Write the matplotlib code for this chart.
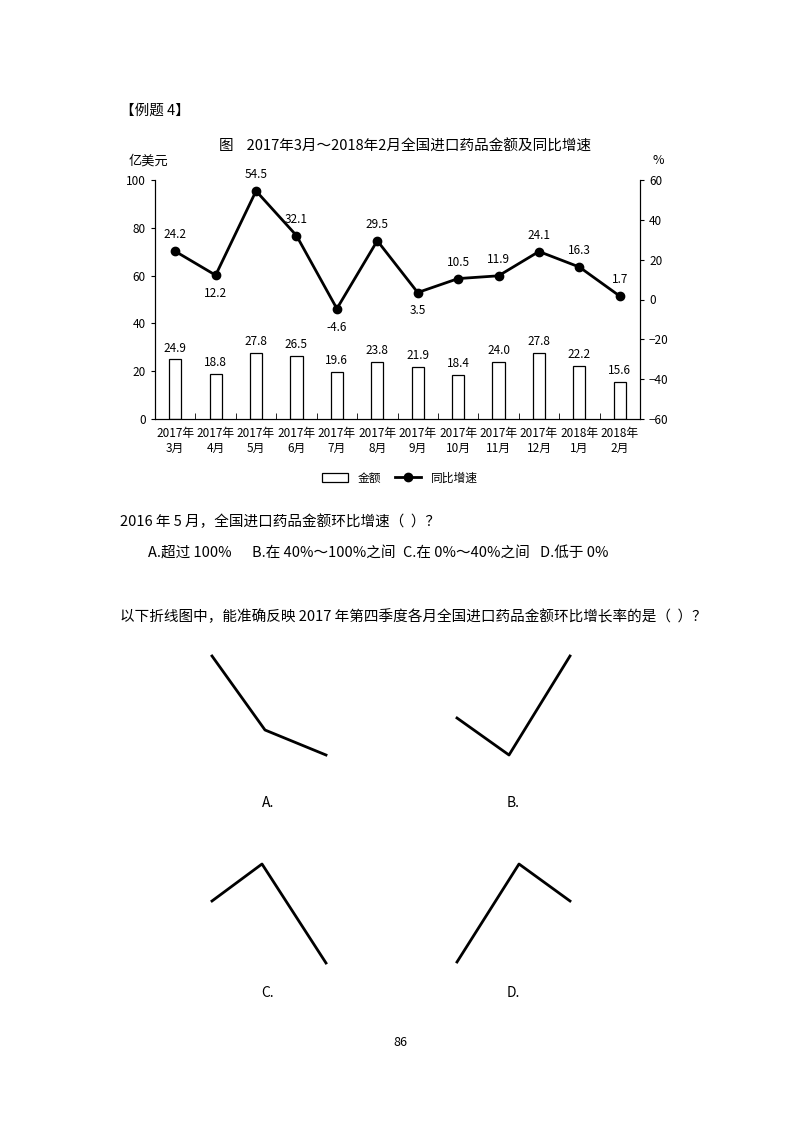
import matplotlib
matplotlib.use("Agg")
import matplotlib.pyplot as plt
import numpy as np

plt.rcParams['font.family'] = ['Noto Sans CJK SC', 'DejaVu Sans']

months = ["2017年\n3月", "2017年\n4月", "2017年\n5月", "2017年\n6月", "2017年\n7月", "2017年\n8月",
          "2017年\n9月", "2017年\n10月", "2017年\n11月", "2017年\n12月", "2018年\n1月", "2018年\n2月"]
amount = [24.9, 18.8, 27.8, 26.5, 19.6, 23.8, 21.9, 18.4, 24.0, 27.8, 22.2, 15.6]
growth = [24.2, 12.2, 54.5, 32.1, -4.6, 29.5, 3.5, 10.5, 11.9, 24.1, 16.3, 1.7]
below = {1, 4, 6}

# option sketches (page pixel coordinates)
sketch_A = [(212, 656), (265, 730), (326, 755)]
sketch_B = [(457, 718), (509, 755), (570, 656)]
sketch_C = [(212, 901), (262, 864), (326, 963)]
sketch_D = [(457, 962), (519, 864), (570, 901)]
sketch_labels = ["A.", "B.", "C.", "D."]

W, H = 800, 1132
fig = plt.figure(figsize=(8, 11.32), dpi=100)

ax = fig.add_axes([155 / W, 1 - 419 / H, 485 / W, 239 / H])
x = np.arange(len(months))
ax.bar(x, amount, width=0.3, facecolor='white', edgecolor='black', linewidth=0.9, label='金额')
for xi, v in zip(x, amount):
    ax.text(xi, v + 2, f"{v}", ha='center', va='bottom', fontsize=8.5)
ax.set_ylim(0, 100)
ax.set_xlim(-0.5, len(months) - 0.5)
ax.set_yticks(range(0, 101, 20))
ax.set_xticks(x)
ax.set_xticklabels(months, fontsize=8.5)
ax.set_xticks(np.arange(-0.5, len(months), 1), minor=True)
ax.tick_params(axis='x', which='major', length=0, pad=6)
ax.tick_params(axis='x', which='minor', length=4, direction='in')
ax.tick_params(axis='y', labelsize=8.5, direction='out', length=3)
ax.spines['top'].set_visible(False)

ax2 = ax.twinx()
ax2.plot(x, growth, color='black', lw=2, marker='o', ms=6, label='同比增速')
for i, (xi, v) in enumerate(zip(x, growth)):
    if i in below:
        ax2.text(xi, v - 6, f"{v}", ha='center', va='top', fontsize=8.5)
    else:
        ax2.text(xi, v + 5, f"{v}", ha='center', va='bottom', fontsize=8.5)
ax2.set_ylim(-60, 60)
ax2.set_yticks(range(-60, 61, 20))
ax2.tick_params(axis='y', labelsize=8.5, length=3)
ax2.spines['top'].set_visible(False)

h1, l1 = ax.get_legend_handles_labels()
h2, l2 = ax2.get_legend_handles_labels()
fig.legend(h1 + h2, l1 + l2, loc='center', bbox_to_anchor=(400 / W, 1 - 478 / H), ncol=2,
           frameon=False, fontsize=8.5, handlelength=2.2, columnspacing=1.2)

fig.text(120 / W, 1 - 111 / H, "【例题 4】", fontsize=10.5, va='center')
fig.text(405 / W, 1 - 147 / H, "图    2017年3月～2018年2月全国进口药品金额及同比增速", fontsize=10.5, ha='center', va='center')
fig.text(148 / W, 1 - 161 / H, "亿美元", fontsize=9.5, ha='center', va='center')
fig.text(658 / W, 1 - 161 / H, "%", fontsize=9, ha='center', va='center')

fig.text(120 / W, 1 - 522 / H, "2016 年 5 月，全国进口药品金额环比增速（  ）？", fontsize=10.5, va='center')
for xp, t in zip([148, 252, 403, 540], ["A.超过 100%", "B.在 40%～100%之间", "C.在 0%～40%之间", "D.低于 0%"]):
    fig.text(xp / W, 1 - 553 / H, t, fontsize=10.5, va='center')
fig.text(120 / W, 1 - 617 / H, "以下折线图中，能准确反映 2017 年第四季度各月全国进口药品金额环比增长率的是（  ）？",
         fontsize=10.5, va='center')

axs = fig.add_axes([0, 0, 1, 1])
axs.set_xlim(0, W)
axs.set_ylim(H, 0)
axs.axis('off')
axs.patch.set_alpha(0)
for pts in [sketch_A, sketch_B, sketch_C, sketch_D]:
    xs, ys = zip(*pts)
    axs.plot(xs, ys, color='black', lw=2)
for (xp, yp), t in zip([(268, 803), (513, 803), (268, 993), (513, 993)], sketch_labels):
    axs.text(xp, yp, t, fontsize=10, ha='center', va='center')
axs.text(400, 1043, "86", fontsize=9, ha='center', va='center')

fig.savefig("out.png", dpi=100)
